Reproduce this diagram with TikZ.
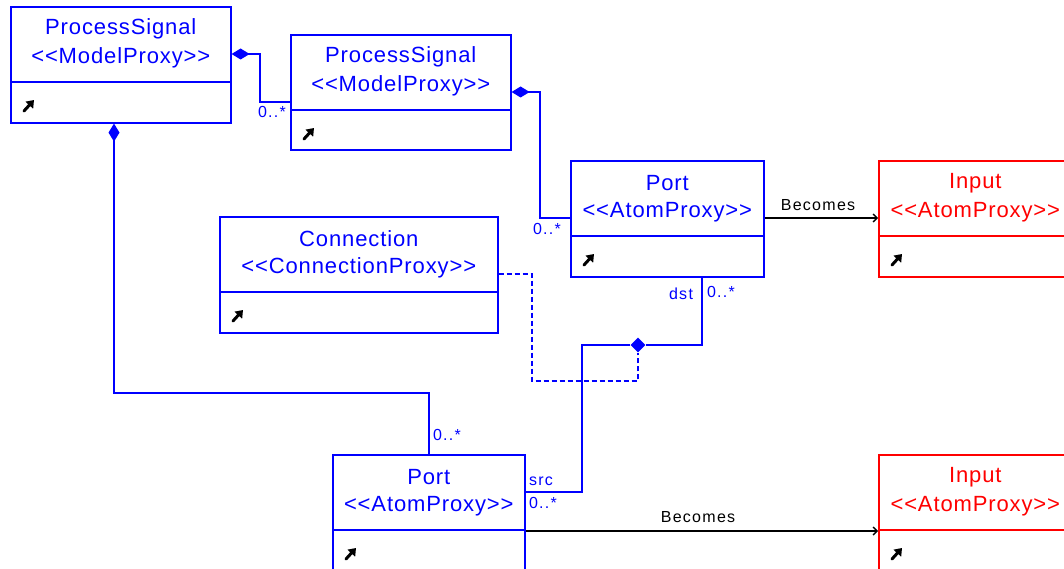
\documentclass[tikz,border=0pt]{standalone}
\usepackage{fontspec}
\usetikzlibrary{arrows.meta,shapes.geometric}
\newfontfamily\titlefont[LetterSpace=4]{Liberation Sans}
\newfontfamily\labelfont[LetterSpace=8]{Liberation Sans}
\definecolor{umlblue}{RGB}{0,0,255}
\definecolor{umlred}{RGB}{255,0,0}
\tikzset{
  classframe/.style={draw, line width=1.6pt, rectangle, inner sep=0pt, anchor=north west},
  classline/.style={line width=1.6pt},
  classtitle/.style={inner sep=0pt, font=\titlefont\fontsize{22}{26}\selectfont},
  mult/.style={inner sep=0pt, text=umlblue, font=\labelfont\fontsize{16}{18}\selectfont},
  becomeslabel/.style={inner sep=0pt, text=black, font=\labelfont\fontsize{16}{18}\selectfont},
  assoc/.style={draw=umlblue, line width=1.6pt},
  owner/.style={assoc, {Diamond[length=18pt,width=11pt,fill=umlblue]}-},
  becomes/.style={draw=black, line width=1.4pt, -{Straight Barb[length=4pt,width=8pt]}},
  linkclass/.style={draw=umlblue, line width=1.3pt, dash pattern=on 5pt off 3pt},
  junction/.style={diamond, fill=umlblue, inner sep=0pt, minimum width=15pt, minimum height=15pt},
  opicon/.pic={\draw[black, line width=3pt, line cap=round, -{Triangle[length=7pt,width=10pt]}] (-5pt,-6pt) -- (5pt,5pt);}
}
% class box: name, colour, x, y, width, height, class name, stereotype
\newcommand\umlclass[8]{%
  \node[classframe, draw=#2, minimum width=#5pt, minimum height=#6pt] (#1) at (#3,#4) {};
  \node[classtitle, text=#2] (#1-t) at ([yshift=-23pt]#1.north) {#7};
  \node[classtitle, text=#2] (#1-s) at ([yshift=-52pt]#1.north) {#8};
  \draw[classline, draw=#2] ([yshift=-76pt]#1.north west) -- ([yshift=-76pt]#1.north east);
  \pic at ([xshift=19pt,yshift=-99pt]#1.north west) {opicon};
}
\begin{document}
\begin{tikzpicture}[x=1pt,y=-1pt]
\useasboundingbox (0,0) rectangle (1064,569);
\clip (0,0) rectangle (1064,569);
\fill[white] (0,0) rectangle (1064,569);

% classes
\umlclass{A}{umlblue}{10}{6}{220}{116}{ProcessSignal}{<{}<ModelProxy>{}>}
\umlclass{B}{umlblue}{290}{34}{220}{115}{ProcessSignal}{<{}<ModelProxy>{}>}
\umlclass{P1}{umlblue}{570}{160}{193}{116}{Port}{<{}<AtomProxy>{}>}
\umlclass{I1}{umlred}{878}{160}{193}{116}{Input}{<{}<AtomProxy>{}>}
\umlclass{C}{umlblue}{219}{216}{278}{116}{Connection}{<{}<ConnectionProxy>{}>}
\umlclass{P2}{umlblue}{332}{454}{192}{130}{Port}{<{}<AtomProxy>{}>}
\umlclass{I2}{umlred}{878}{454}{193}{130}{Input}{<{}<AtomProxy>{}>}

% containment links
\draw[owner] (A.east |- 0,54) -- (260,54) |- (B.west |- 0,102);
\draw[owner] (B.east |- 0,92) -- (540,92) |- (P1.west |- 0,218);
\draw[owner] (A.south -| 114,0) |- (P2.north |- 0,393) -- (P2.north);

% connection between ports, with its association class
\node[junction] (J) at (638,345) {};
\draw[linkclass] (C.east |- 0,274) -| (532,381) -| (J.south);
\draw[assoc] (P1.south -| 702,0) |- (J.east);
\draw[assoc] (J.west) -- (582,345) |- (P2.east |- 0,492);

% Becomes links
\draw[becomes] (P1.east |- 0,218) -- (I1.west |- 0,218);
\draw[becomes] (P2.east |- 0,531) -- (I2.west |- 0,531);

% labels
\node[mult] (mAB) at (272,112) {0..*};
\node[mult] (mBP) at (547,229) {0..*};
\node[mult] (dst) at (681,294) {dst};
\node[mult] (mdst) at (721,292) {0..*};
\node[mult] (mAP) at (447,435) {0..*};
\node[mult] (src) at (541,481) {src};
\node[mult] (msrc) at (543,503) {0..*};
\node[becomeslabel] (b1) at (818,205) {Becomes};
\node[becomeslabel] (b2) at (698,517) {Becomes};
\end{tikzpicture}
\end{document}
